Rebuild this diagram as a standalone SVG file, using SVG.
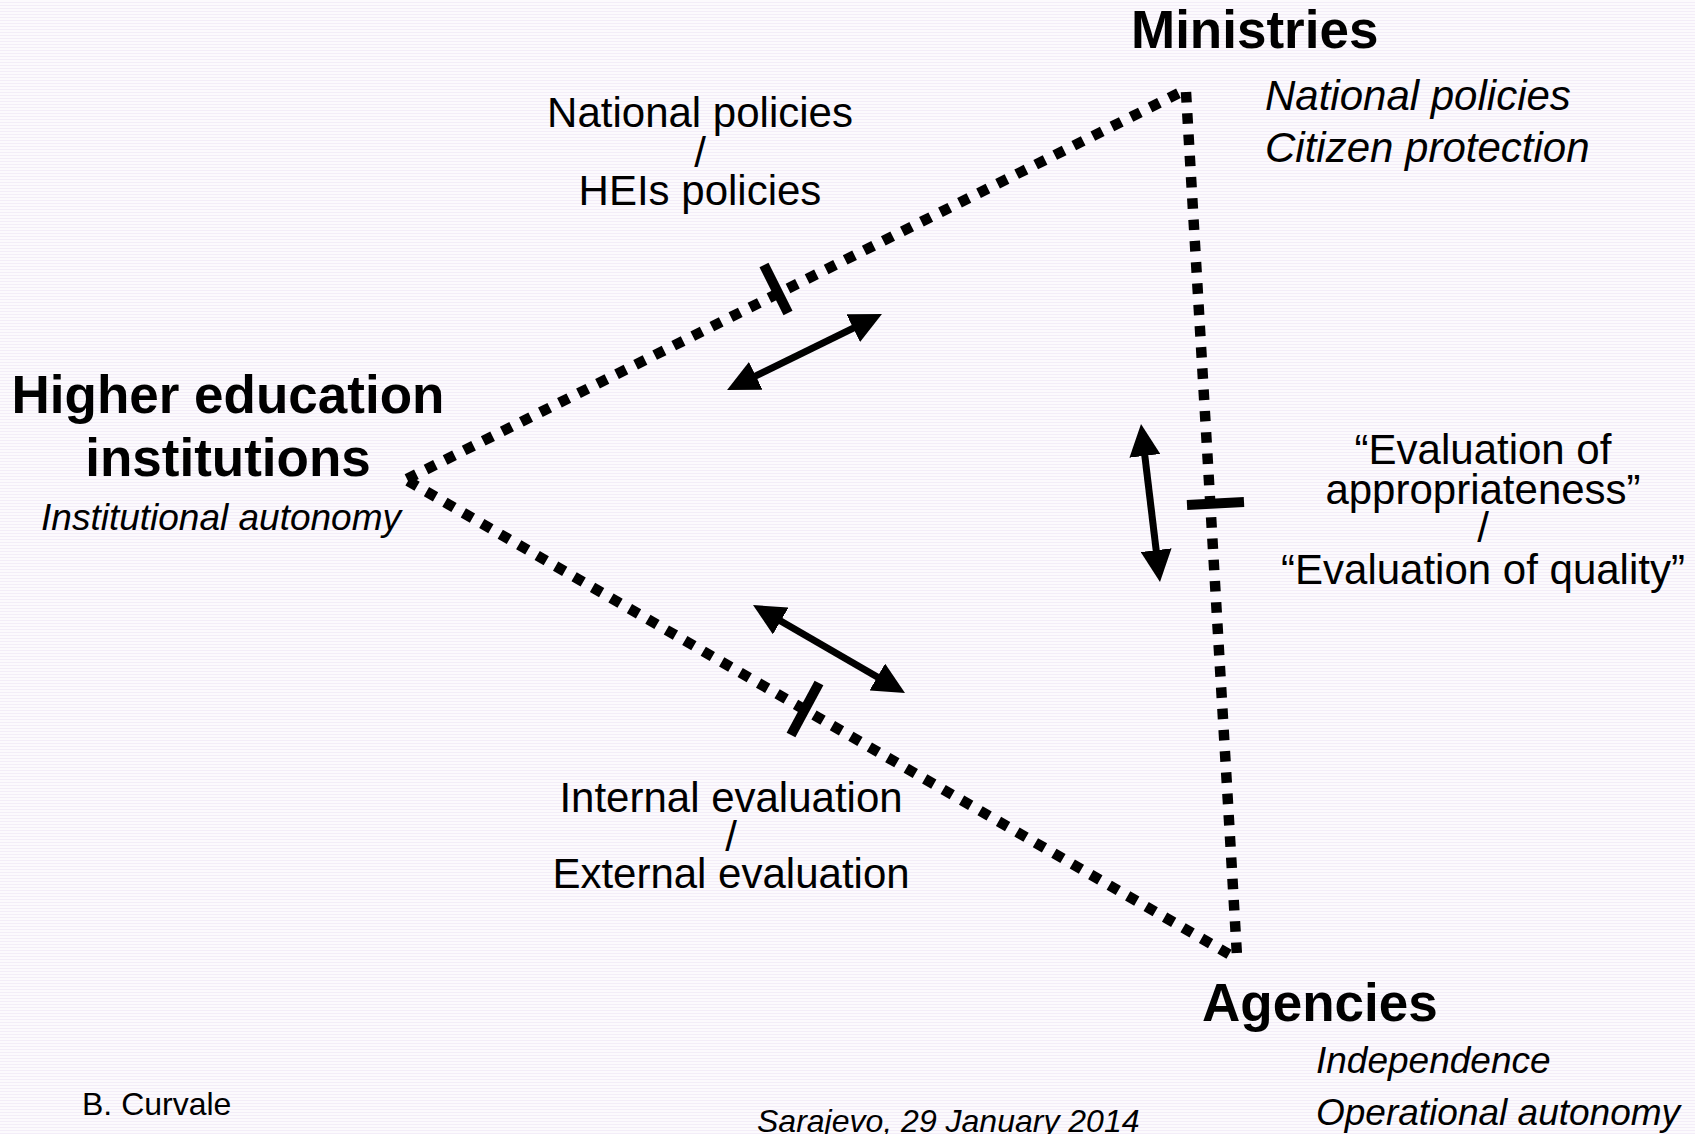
<svg xmlns="http://www.w3.org/2000/svg" width="1695" height="1134" viewBox="0 0 1695 1134">
<defs>
<pattern id="bg" width="8" height="3" patternUnits="userSpaceOnUse">
<rect width="8" height="3" fill="#fcfafd"/>
<rect y="2" width="8" height="1" fill="#f3edf8"/>
</pattern>
<marker id="ah" viewBox="0 0 32 31" refX="12" refY="15.5" markerWidth="32" markerHeight="31" markerUnits="userSpaceOnUse" orient="auto-start-reverse">
<path d="M0,0 L32,15.5 L0,31 z" fill="#000"/>
</marker>
<style>
.t{font-family:"Liberation Sans",Arial,sans-serif;fill:#000}
.b{font-weight:bold;font-size:53px}
.r{font-size:42px}
.i{font-style:italic}
.i42{font-style:italic;font-size:42px}
.i37{font-style:italic;font-size:37px}
.s{font-size:32px}
.dot{stroke:#000;stroke-width:10.5;stroke-dasharray:10.5 10.8;fill:none}
.tick{stroke:#000;stroke-width:10;fill:none}
.arr{stroke:#000;stroke-width:7;fill:none;marker-start:url(#ah);marker-end:url(#ah)}
</style>
</defs>
<rect width="1695" height="1134" fill="url(#bg)"/>

<g id="connectors">
<line class="dot" x1="407" y1="479" x2="1181" y2="92"/>
<line class="dot" x1="408" y1="481" x2="1232" y2="956"/>
<line class="dot" x1="1186" y1="92" x2="1237" y2="956"/>
<line class="tick" x1="764" y1="265" x2="788" y2="313"/>
<line class="tick" x1="819" y1="683" x2="791" y2="735"/>
<line class="tick" x1="1187" y1="505" x2="1244" y2="502"/>
<line class="arr" x1="745.0" y1="381.2" x2="864.0" y2="322.8"/>
<line class="arr" x1="770.3" y1="615.0" x2="887.7" y2="683.0"/>
<line class="arr" x1="1143.4" y1="443.9" x2="1157.6" y2="562.1"/>
</g>

<g id="label-hei-ministries" class="t r" text-anchor="middle">
<text x="700" y="127">National policies</text>
<text x="700" y="167">/</text>
<text x="700" y="205">HEIs policies</text>
</g>

<g id="label-hei-agencies" class="t r" text-anchor="middle">
<text x="731" y="812">Internal evaluation</text>
<text x="731" y="851">/</text>
<text x="731" y="888">External evaluation</text>
</g>

<g id="label-ministries-agencies" class="t r" text-anchor="middle">
<text x="1483" y="464">“Evaluation of</text>
<text x="1483" y="504">appropriateness”</text>
<text x="1483" y="542">/</text>
<text x="1483" y="584">“Evaluation of quality”</text>
</g>

<g id="node-ministries">
<text class="t b" x="1131" y="48">Ministries</text>
<text class="t i42" x="1265" y="110">National policies</text>
<text class="t i42" x="1265" y="162">Citizen protection</text>
</g>

<g id="node-hei">
<text class="t b" x="228" y="413" text-anchor="middle">Higher education</text>
<text class="t b" x="228" y="476" text-anchor="middle">institutions</text>
<text class="t i37" x="221" y="530" text-anchor="middle">Institutional autonomy</text>
</g>

<g id="node-agencies">
<text class="t b" x="1202" y="1021">Agencies</text>
<text class="t i37" x="1316" y="1073">Independence</text>
<text class="t i37" x="1316" y="1125">Operational autonomy</text>
</g>

<g id="footer">
<text class="t s" x="82" y="1115">B. Curvale</text>
<text class="t s i" x="757" y="1132">Sarajevo, 29 January 2014</text>
</g>
</svg>
